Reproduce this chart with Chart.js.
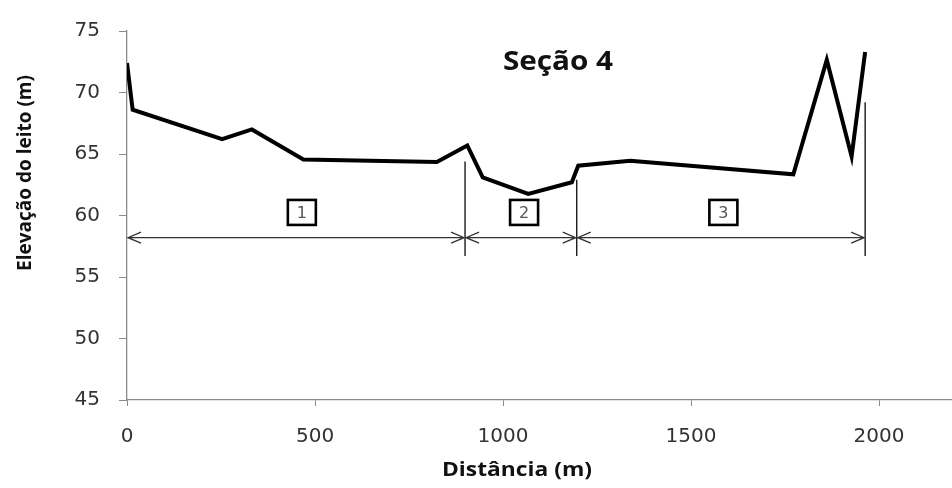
<!DOCTYPE html>
<html><head><meta charset="utf-8">
<script src="https://cdn.jsdelivr.net/npm/chart.js@4.4.0/dist/chart.umd.min.js"></script>
<style>html,body{margin:0;padding:0;background:#fff;}#wrap{width:952px;height:488px;position:relative;}</style>
</head><body><div id="wrap"><canvas id="c"></canvas></div>
<script>
// ---- data ----
const distances  = [0, 15, 253, 332, 469, 824, 905, 946, 1067, 1183, 1200, 1338, 1772, 1861, 1927, 1963];
const elevations = [72.4, 68.6, 66.2, 67.0, 64.55, 64.35, 65.7, 63.1, 61.75, 62.7, 64.05, 64.45, 63.35, 72.65, 64.8, 73.3];
const xTickValues = [0, 500, 1000, 1500, 2000];
const yTickValues = [45, 50, 55, 60, 65, 70, 75];
const sectionBounds = [0, 899, 1196, 1963];
const boundTops = [null, 64.4, 62.9, 69.2];
const boundBottom = 56.7;
const arrowLevel = 58.2;
const sectionLabels = ['1', '2', '3'];
const sectionLabelX = [465, 1056, 1586];
const sectionLabelY = 60.25;
const chartTitle = 'Seção 4';
const xTitle = 'Distância (m)';
const yTitle = 'Elevação do leito (m)';

const points = distances.map((d, i) => ({x: d, y: elevations[i]}));
const AXIS = '#8a8a8a';

function wideText(ctx, text, cx, cy, sx) {
  ctx.save();
  ctx.translate(cx, cy);
  ctx.scale(sx, 1);
  ctx.fillText(text, 0, 0);
  ctx.restore();
}

const annot = {
  id: 'annot',
  afterDatasetsDraw(chart) {
    const {ctx, scales: {x, y}} = chart;
    ctx.save();
    // boundaries
    ctx.strokeStyle = '#1a1a1a';
    ctx.lineWidth = 1.4;
    for (let i = 1; i < sectionBounds.length; i++) {
      const px = x.getPixelForValue(sectionBounds[i]);
      ctx.beginPath();
      ctx.moveTo(px, y.getPixelForValue(boundTops[i]));
      ctx.lineTo(px, y.getPixelForValue(boundBottom));
      ctx.stroke();
    }
    // arrows
    const ay = y.getPixelForValue(arrowLevel);
    ctx.strokeStyle = '#333';
    ctx.lineWidth = 1.3;
    const L = 13, H = 5.5;
    for (let i = 0; i < sectionBounds.length - 1; i++) {
      const x1 = x.getPixelForValue(sectionBounds[i]) + 1;
      const x2 = x.getPixelForValue(sectionBounds[i + 1]) - 1;
      ctx.beginPath();
      ctx.moveTo(x1, ay); ctx.lineTo(x2, ay);
      ctx.moveTo(x1 + L, ay - H); ctx.lineTo(x1, ay); ctx.lineTo(x1 + L, ay + H);
      ctx.moveTo(x2 - L, ay - H); ctx.lineTo(x2, ay); ctx.lineTo(x2 - L, ay + H);
      ctx.stroke();
    }
    // label boxes
    const by = y.getPixelForValue(sectionLabelY);
    ctx.textAlign = 'center';
    ctx.textBaseline = 'middle';
    for (let i = 0; i < sectionLabels.length; i++) {
      const bx = x.getPixelForValue(sectionLabelX[i]);
      ctx.fillStyle = '#fff';
      ctx.fillRect(bx - 14, by - 12.5, 28, 25);
      ctx.strokeStyle = '#000';
      ctx.lineWidth = 2.6;
      ctx.strokeRect(bx - 14, by - 12.5, 28, 25);
      ctx.fillStyle = '#555';
      ctx.font = '16px "DejaVu Sans"';
      ctx.fillText(sectionLabels[i], bx, by + 1);
    }
    // chart title
    ctx.fillStyle = '#111';
    ctx.font = 'bold 27px "Open Sans"';
    wideText(ctx, chartTitle, 558, 62, 1.1);
    // axis titles
    ctx.font = 'bold 19px "Open Sans"';
    wideText(ctx, xTitle, 517, 471, 1.2);
    ctx.save();
    ctx.translate(26, 173);
    ctx.rotate(-Math.PI / 2);
    ctx.fillText(yTitle, 0, 0);
    ctx.restore();
    ctx.restore();
  }
};

new Chart(document.getElementById('c'), {
  type: 'line',
  data: {
    datasets: [{
      data: points,
      borderColor: '#000',
      borderWidth: 4,
      pointRadius: 0,
      tension: 0,
      fill: false,
      borderJoinStyle: 'miter'
    }]
  },
  options: {
    responsive: true,
    maintainAspectRatio: false,
    animation: false,
    events: [],
    layout: {padding: {top: 24, right: 0, left: 0, bottom: 0}},
    plugins: {legend: {display: false}, tooltip: {enabled: false}, title: {display: false}},
    scales: {
      x: {
        type: 'linear', min: 0, max: 2194,
        afterBuildTicks: s => { s.ticks = xTickValues.map(v => ({value: v})); },
        afterFit: s => { s.height = 88; },
        border: {color: AXIS, width: 1.3},
        grid: {drawOnChartArea: false, drawTicks: true, tickLength: 6, color: AXIS},
        ticks: {font: {family: '"DejaVu Sans"', size: 20}, color: '#333', padding: 19, maxRotation: 0,
                callback: v => String(v)}
      },
      y: {
        min: 45, max: 75,
        afterBuildTicks: s => { s.ticks = yTickValues.map(v => ({value: v})); },
        afterFit: s => { s.width = 127; },
        border: {color: AXIS, width: 1.3},
        grid: {drawOnChartArea: false, drawTicks: true, tickLength: 8, color: AXIS},
        ticks: {font: {family: '"DejaVu Sans"', size: 20}, color: '#333', padding: 19,
                callback: v => String(v)}
      }
    }
  },
  plugins: [annot]
});
</script></body></html>
